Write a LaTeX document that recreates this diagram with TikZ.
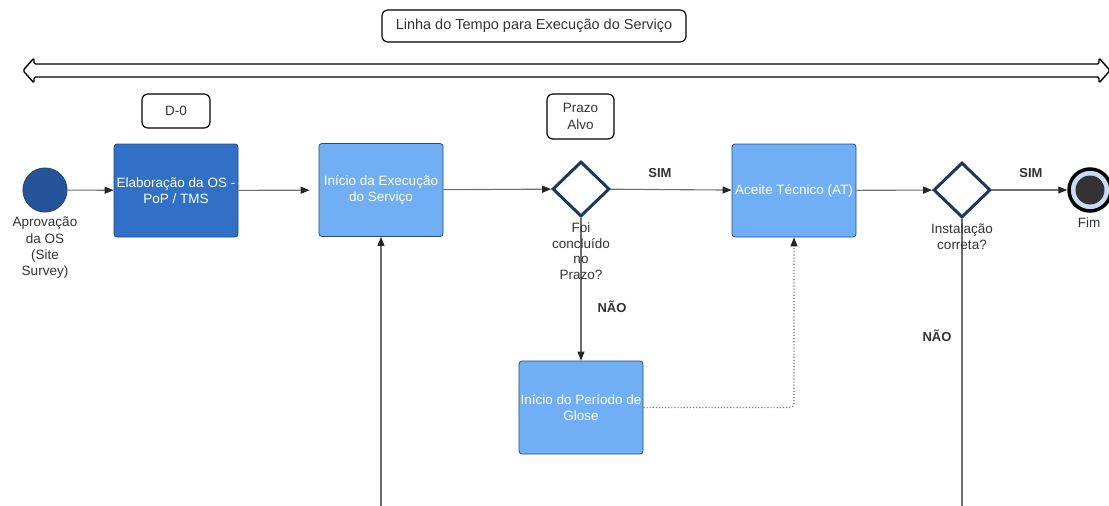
\documentclass[tikz,border=0pt]{standalone}
\usepackage{fontspec}
\setmainfont{Liberation Sans}
\usetikzlibrary{arrows.meta, shapes.geometric, positioning}

\definecolor{azulescuro}{RGB}{48,112,198}
\definecolor{azulclaro}{RGB}{112,174,246}
\definecolor{bordaazul}{RGB}{40,72,120}
\definecolor{azulinicio}{RGB}{37,84,155}
\definecolor{losango}{RGB}{28,56,92}
\definecolor{linha}{RGB}{110,110,110}
\definecolor{texto}{RGB}{50,50,50}
\definecolor{anelfim}{RGB}{200,220,245}

\begin{document}
\begin{tikzpicture}[x=1pt,y=-1pt,
    tarefa/.style={rectangle, rounded corners=3pt, draw=bordaazul, line width=0.8pt,
        minimum width=124pt, minimum height=93pt, inner sep=1pt, align=center,
        text=white, font=\fontsize{13.5}{16}\selectfont},
    marco/.style={rectangle, rounded corners=6pt, draw=black, line width=1.2pt,
        inner sep=0pt, align=center, text=texto, font=\fontsize{13.5}{16.5}\selectfont},
    decisao/.style={diamond, draw=losango, line width=3pt, fill=white,
        minimum width=57pt, minimum height=55pt, inner sep=0pt},
    rotulo/.style={align=center, text=texto, inner sep=0pt, font=\fontsize{13.5}{16.3}\selectfont},
    resposta/.style={text=texto, inner sep=0pt, font=\fontsize{13}{15}\selectfont\bfseries},
    fluxo/.style={draw=linha, line width=1.1pt, -{Triangle[length=9pt,width=7pt,color=black!85]}}]
    %\draw[help lines, step=50] (0,0) grid (1109,506);
    \clip (0,0) rectangle (1109,506);

    % linha do tempo
    \node [marco, minimum width=304pt, minimum height=32pt, font=\fontsize{14.5}{17}\selectfont] (tempo) at (534,26) {Linha do Tempo para Execução do Serviço};
    \draw [line width=1.4pt, rounded corners=1.5pt] (23,70.5) -- (34,58) -- (34,64) -- (1099,64) -- (1099,58) -- (1110,70.5)
        -- (1099,83) -- (1099,77) -- (34,77) -- (34,83) -- cycle;

    \node [marco, minimum width=68pt, minimum height=34pt] (d0) at (176,111) {D-0};
    \node [marco, minimum width=67pt, minimum height=45pt] (prazo) at (580.5,116.5) {Prazo\\Alvo};

    % fluxo principal
    \node [circle, draw=bordaazul, line width=1pt, fill=azulinicio, minimum size=44pt, inner sep=0pt] (inicio) at (45,190) {};
    \node [tarefa, fill=azulescuro] (elab) at (176,190.5) {Elaboração da OS -\\PoP / TMS};
    \node [tarefa, fill=azulclaro] (exec) at (381,190) {Início da Execução\\do Serviço};
    \node [decisao] (prazook) at (581,189) {};
    \node [tarefa, fill=azulclaro] (aceite) at (794,190.5) {Aceite Técnico (AT)};
    \node [decisao] (instal) at (962,190) {};
    \node [circle, draw=black, line width=3.5pt, fill=anelfim, minimum size=42pt, inner sep=0pt] (fim) at (1090,190) {};
    \fill [black!80] (fim.center) circle (14.5pt);
    \node [tarefa, fill=azulclaro] (glose) at (581,407.5) {Início do Período de\\Glose};

    \coordinate (voltaB) at (962,540);

    \draw [fluxo] (inicio) -- (elab);
    \draw [fluxo, shorten >=9pt] (elab) -- (exec);
    \draw [fluxo] (exec) -- (prazook);
    \draw [fluxo] (prazook) -- (aceite);
    \draw [fluxo] (aceite) -- (instal);
    \draw [fluxo] (instal) -- (fim);
    \draw [fluxo] (prazook.south) -- (glose.north);
    \draw [fluxo, dotted, rounded corners=4pt] (glose.east) -| (aceite.south);
    \draw [fluxo] (instal.south) -- (voltaB) -| (exec.south);

    % textos
    \node [rotulo] (aprov) at (45,248) {Aprovação\\da OS\\(Site\\Survey)};
    \node [rotulo, font=\fontsize{13.5}{15.6}\selectfont] (foi) at (581,251) {Foi\\concluído\\no\\Prazo?};
    \node [rotulo] (correta) at (962,236.5) {Instalação\\correta?};
    \node [rotulo] (fimtxt) at (1089,223) {Fim};
    \node [resposta] (sim1) at (660,173) {SIM};
    \node [resposta] (sim2) at (1031,173) {SIM};
    \node [resposta] (nao1) at (612,307) {NÃO};
    \node [resposta] (nao2) at (937,336) {NÃO};
\end{tikzpicture}
\end{document}
